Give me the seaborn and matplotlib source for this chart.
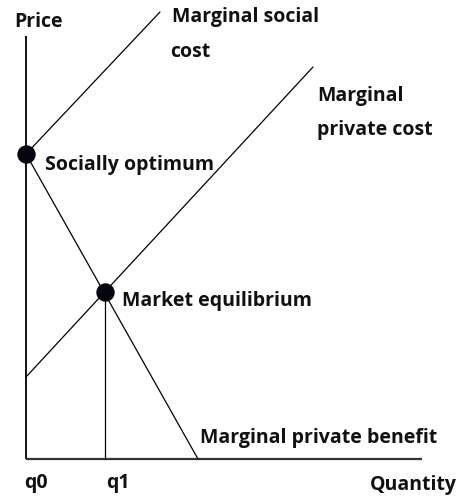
import matplotlib
matplotlib.use("Agg")
import matplotlib.pyplot as plt
import seaborn as sns
import pandas as pd

sns.set_theme(style="white")
plt.rcParams['font.family'] = ['Open Sans', 'DejaVu Sans']

# Curves (quantity, price) endpoints
curve_names = ["Marginal social cost", "Marginal private cost", "Marginal private benefit", "q1 line"]
curve_x = [[0, 134], [0, 287], [0, 172], [79, 79]]
curve_y = [[305, 447], [82, 392], [305, 0], [0, 167]]

# Points
point_names = ["Socially optimum", "Market equilibrium"]
point_x = [0, 79]
point_y = [305, 167]

# Axis extents
x_axis_max = 396
y_axis_max = 423

rows = []
for n, xs, ys in zip(curve_names, curve_x, curve_y):
    for x, y in zip(xs, ys):
        rows.append({"curve": n, "q": x, "p": y})
df = pd.DataFrame(rows)
pts = pd.DataFrame({"name": point_names, "q": point_x, "p": point_y})

fig = plt.figure(figsize=(4.6, 4.97), dpi=100)
ax = fig.add_axes([0, 0, 1, 1])
ax.set_xlim(-26, 434)
ax.set_ylim(-38, 459)
ax.axis("off")

# axes lines
ax.plot([0, 0], [0, y_axis_max], color="black", lw=1.3, solid_capstyle="butt")
ax.plot([0, x_axis_max], [0, 0], color="#333333", lw=1.6, solid_capstyle="butt")

sns.lineplot(data=df, x="q", y="p", hue="curve", units="curve", estimator=None,
             palette=["black"] * len(curve_names), legend=False, lw=0.9, ax=ax, sort=False)
sns.scatterplot(data=pts, x="q", y="p", s=150, color="#05050f", edgecolor="#05050f",
                zorder=5, ax=ax, legend=False)

fs = 14
def T(px, py, s, **kw):
    ax.text(px - 26, 459 - py, s, fontsize=fs, fontweight="bold", color="#111111",
            va="center", **kw)

T(14, 22, "Price")
T(172, 17, "Marginal social")
T(170, 52, "cost")
T(317, 96, "Marginal")
T(317, 130, "private cost")
T(45, 165, "Socially optimum")
T(122, 301, "Market equilibrium")
T(200, 438, "Marginal private benefit")
T(24, 483, "q0")
T(106, 483, "q1")
T(370, 485, "Quantity")

fig.savefig("out.png", dpi=100)
